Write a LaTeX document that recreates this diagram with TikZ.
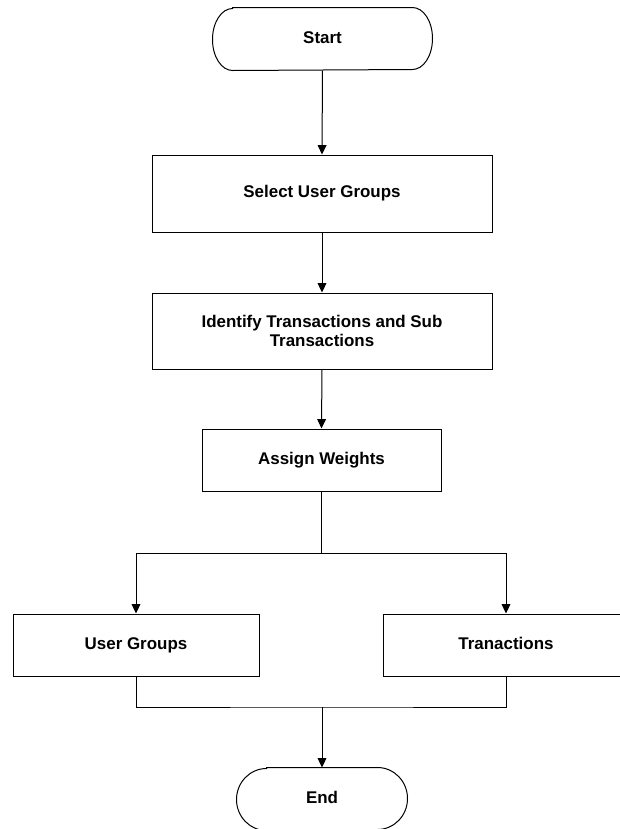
\documentclass[tikz,border=0pt]{standalone}
\usepackage{fontspec}
\setmainfont{Liberation Sans}
\usetikzlibrary{arrows.meta}

\begin{document}
\begin{tikzpicture}[x=0.75pt, y=-0.75pt,
  line width=0.75pt,
  every node/.style={font=\bfseries\fontsize{12.7}{14}\selectfont, align=center, inner sep=0pt},
  oneline/.style={text height=9.2pt, text depth=2.6pt},
  procbox/.style={draw, rectangle, minimum width=#1*0.75pt},
  terminal/.style={oneline, minimum width=#1*0.75pt, minimum height=62*0.75pt},
  flow/.style={-{Triangle[length=7pt,width=6.5pt]}}
]
\useasboundingbox (0,0) rectangle (620,829);
\clip (0,0) rectangle (620,829);

% terminals (outlines drawn below)
\node[terminal=219] (start) at (322.5,39) {Start};
\node[terminal=170] (end) at (322,799) {End};

% process boxes
\node[procbox=340, oneline, minimum height=77*0.75pt] (sel) at (322,193.5) {Select User Groups};
\node[procbox=340, minimum height=76*0.75pt] (ident) at (322,331) {Identify Transactions and Sub\\Transactions};
\node[procbox=239, oneline, minimum height=62*0.75pt] (assign) at (321.5,460) {Assign Weights};
\node[procbox=246, oneline, minimum height=62*0.75pt] (ug) at (136,645) {User Groups};
\node[procbox=246, oneline, minimum height=62*0.75pt] (tr) at (506,645) {Tranactions};

% rounded terminal outlines
\draw ([xshift=20*0.75pt]start.north west) -- ([xshift=-20*0.75pt]start.north east)
  arc[start angle=90, end angle=-90, x radius=20*0.75pt, y radius=31*0.75pt]
  -- ([xshift=20*0.75pt]start.south west)
  arc[start angle=270, end angle=90, x radius=20*0.75pt, y radius=31*0.75pt] -- cycle;
\draw ([xshift=30*0.75pt]end.north west) -- ([xshift=-30*0.75pt]end.north east)
  arc[start angle=90, end angle=-90, x radius=30*0.75pt, y radius=31*0.75pt]
  -- ([xshift=30*0.75pt]end.south west)
  arc[start angle=270, end angle=90, x radius=30*0.75pt, y radius=31*0.75pt] -- cycle;

% junction points
\coordinate (split) at (322,553);
\coordinate (merge) at (322,707);

% connectors
\draw[flow] (start.south) -- (sel.north);
\draw[flow] (sel.south) -- (ident.north);
\draw[flow] (ident.south) -- (assign.north);
\draw (assign.south) -- (assign.south |- split);
\draw[flow] (assign.south |- split) -| (ug.north);
\draw[flow] (assign.south |- split) -| (tr.north);
\draw (ug.south) |- (merge) -| (tr.south);
\draw[flow] (merge) -- (end.north);
\end{tikzpicture}
\end{document}
